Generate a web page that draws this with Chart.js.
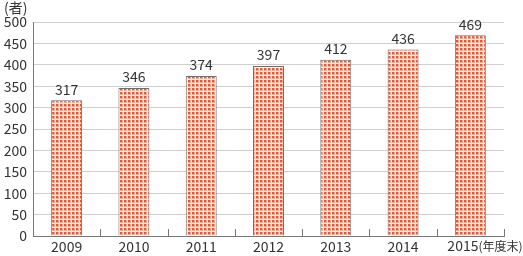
<!DOCTYPE html>
<html>
<head>
<meta charset="utf-8">
<script src="https://cdn.jsdelivr.net/npm/chart.js@4/dist/chart.umd.min.js"></script>
<style>
  html, body { margin: 0; padding: 0; background: #fff; }
</style>
</head>
<body>
<canvas id="chart" width="523" height="256"></canvas>
<script>
const years = ['2009', '2010', '2011', '2012', '2013', '2014', '2015'];
const counts = [317, 346, 374, 397, 412, 436, 469];
const yTicks = [0, 50, 100, 150, 200, 250, 300, 350, 400, 450, 500];
const unitLabel = '(者)';
const lastSuffix = '(年度末)';

const FONT = '"Noto Sans CJK JP", "Noto Sans", sans-serif';

// dotted fill like the print original
function makePattern() {
    const c = document.createElement('canvas');
    c.width = 4; c.height = 4;
    const g = c.getContext('2d');
    g.fillStyle = '#fff3ee';
    g.fillRect(0, 0, 4, 4);
    g.fillStyle = '#f7a893';
    g.fillRect(0, 0, 3, 3);
    g.fillStyle = '#ec5236';
    g.fillRect(0, 0, 2, 2);
    return g.createPattern(c, 'repeat');
}

const extras = {
    id: 'extras',
    afterDatasetsDraw(chart) {
        const ctx = chart.ctx;
        const area = chart.chartArea;
        const x = chart.scales.x;
        ctx.save();
        // inner tick marks on category boundaries
        ctx.strokeStyle = '#777';
        ctx.lineWidth = 1;
        for (let i = 1; i <= years.length; i++) {
            const px = Math.round(area.left + (area.right - area.left) * i / years.length) + 0.5;
            ctx.beginPath();
            ctx.moveTo(px, area.bottom);
            ctx.lineTo(px, area.bottom - 7);
            ctx.stroke();
        }
        // value labels
        ctx.fillStyle = '#333';
        ctx.font = '14px ' + FONT;
        ctx.textAlign = 'center';
        ctx.textBaseline = 'bottom';
        chart.getDatasetMeta(0).data.forEach((bar, i) => {
            ctx.fillText(String(counts[i]), bar.x, bar.y - 4);
        });
        // unit label
        ctx.textAlign = 'left';
        ctx.textBaseline = 'middle';
        ctx.fillText(unitLabel, 4, 8);
        // last year label, shifted left with its suffix
        const last = years.length - 1;
        const lx = x.getPixelForValue(last) - 23;
        ctx.fillText(years[last], lx, 246);
        const w = ctx.measureText(years[last]).width;
        ctx.font = '12px ' + FONT;
        ctx.fillText(lastSuffix, lx + w, 246);
        ctx.restore();
    }
};

new Chart(document.getElementById('chart'), {
    type: 'bar',
    data: {
        labels: years,
        datasets: [{
            data: counts,
            backgroundColor: makePattern(),
            borderColor: '#6e6e6e',
            borderWidth: 1,
            barPercentage: 0.92,
            categoryPercentage: 0.5
        }]
    },
    options: {
        responsive: false,
        animation: false,
        layout: { padding: { top: 22, right: 19, left: 0, bottom: 0 } },
        plugins: {
            legend: { display: false },
            tooltip: { enabled: false }
        },
        scales: {
            x: {
                grid: { display: false, drawTicks: false },
                border: { color: '#777', width: 1 },
                ticks: {
                    color: '#333',
                    font: { family: FONT, size: 14 },
                    padding: 2,
                    maxRotation: 0,
                    callback: (v, i) => i === years.length - 1 ? '' : years[i]
                },
                afterFit(s) { s.height = 20; }
            },
            y: {
                min: 0,
                max: 500,
                afterBuildTicks(s) { s.ticks = yTicks.map(v => ({ value: v })); },
                grid: { color: '#cfcfcf', drawTicks: false },
                border: { color: '#777', width: 1 },
                ticks: { color: '#333', font: { family: FONT, size: 14 }, padding: 6 },
                afterFit(s) { s.width = 33; }
            }
        }
    },
    plugins: [extras]
});
</script>
</body>
</html>
